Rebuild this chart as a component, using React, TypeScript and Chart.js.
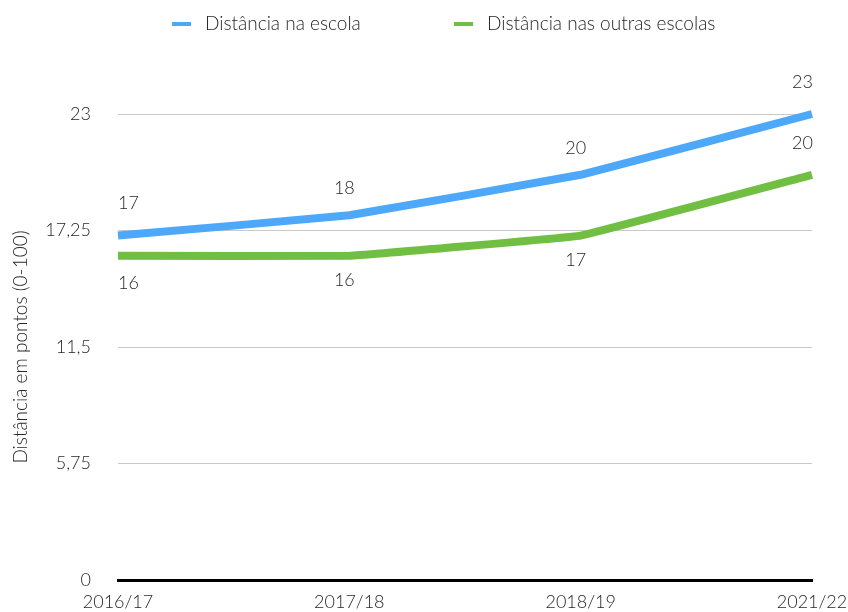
import React, { useEffect, useRef } from "react";
import { Chart, registerables } from "chart.js";

Chart.register(...registerables);

const categories = ["2016/17", "2017/18", "2018/19", "2021/22"];
const schoolValues = [17, 18, 20, 23];
const otherValues = [16, 16, 17, 20];
const schoolLabelPos = ["above", "above", "above", "above"];
const otherLabelPos = ["below", "below", "below", "above"];
const yTicks = [0, 5.75, 11.5, 17.25, 23];
const seriesNames = ["Distância na escola", "Distância nas outras escolas"];
const yTitle = "Distância em pontos (0-100)";

const BLUE = "#4ea8fa";
const GREEN = "#70bf43";
const FONT = "Lato";
const TEXT = "#262626";

const fmt = (v: number) => String(v).replace(".", ",");

const labelsPlugin = {
  id: "valueLabels",
  afterDatasetsDraw(chart: any) {
    const ctx = chart.ctx;
    ctx.save();
    ctx.font = `300 18px ${FONT}`;
    ctx.fillStyle = TEXT;
    ctx.textBaseline = "middle";
    chart.data.datasets.forEach((ds: any, di: number) => {
      const meta = chart.getDatasetMeta(di);
      const pos = ds.labelPos as string[];
      meta.data.forEach((pt: any, i: number) => {
        const n = meta.data.length;
        let x = pt.x;
        let off = 0;
        if (i === 0) {
          ctx.textAlign = "left";
          x = pt.x;
        } else if (i === n - 1) {
          ctx.textAlign = "right";
          x = pt.x + 1;
        } else {
          ctx.textAlign = "center";
          x = pt.x - 5;
          off = 5;
        }
        const y = pos[i] === "above" ? pt.y - 32 + off : pt.y + 27 - off / 2;
        ctx.fillText(fmt(ds.data[i]), x, y);
      });
    });
    ctx.restore();
  },
};

const legendPlugin = {
  id: "customLegend",
  afterDraw(chart: any) {
    const ctx = chart.ctx;
    ctx.save();
    ctx.font = `300 19px ${FONT}`;
    ctx.fillStyle = TEXT;
    ctx.textBaseline = "middle";
    ctx.textAlign = "left";
    const starts = [172, 454];
    chart.data.datasets.forEach((ds: any, i: number) => {
      const x = starts[i];
      const y = 24;
      ctx.strokeStyle = ds.borderColor;
      ctx.lineWidth = 4;
      ctx.beginPath();
      ctx.moveTo(x, y);
      ctx.lineTo(x + 19, y);
      ctx.stroke();
      ctx.fillText(ds.label, x + 33, y);
    });
    ctx.restore();
  },
};

export default function App() {
  const ref = useRef<HTMLCanvasElement>(null);
  useEffect(() => {
    document.body.style.margin = "0";
    const chart = new Chart(ref.current!, {
      type: "line",
      data: {
        labels: categories,
        datasets: [
          {
            label: seriesNames[0],
            data: schoolValues,
            borderColor: BLUE,
            backgroundColor: BLUE,
            borderWidth: 8,
            borderCapStyle: "butt",
            borderJoinStyle: "round",
            pointRadius: 0,
            tension: 0.05,
            clip: false,
            labelPos: schoolLabelPos,
          } as any,
          {
            label: seriesNames[1],
            data: otherValues,
            borderColor: GREEN,
            backgroundColor: GREEN,
            borderWidth: 8,
            borderCapStyle: "butt",
            borderJoinStyle: "round",
            pointRadius: 0,
            tension: 0.05,
            clip: false,
            labelPos: otherLabelPos,
          } as any,
        ],
      },
      options: {
        animation: false,
        responsive: false,
        maintainAspectRatio: false,
        layout: { padding: { top: 114, right: 36, left: 0, bottom: 0 } },
        plugins: {
          legend: { display: false },
          tooltip: { enabled: false },
        },
        scales: {
          x: {
            offset: false,
            afterFit(scale: any) {
              scale.height = 32;
              scale.paddingRight = 0;
              scale.paddingLeft = 0;
            },
            grid: { display: false, drawTicks: false },
            border: { display: true, color: "#000", width: 3 },
            ticks: {
              color: TEXT,
              font: { family: FONT, size: 18, weight: "300" as any },
              padding: 11,
              maxRotation: 0,
              autoSkip: false,
            },
          },
          y: {
            min: 0,
            max: 23,
            afterBuildTicks(scale: any) {
              scale.ticks = yTicks.map((v) => ({ value: v }));
            },
            afterFit(scale: any) {
              scale.width = 118;
              scale.paddingTop = 0;
              scale.paddingBottom = 0;
            },
            grid: {
              color: (c: any) => (c.tick && c.tick.value === 0 ? "rgba(0,0,0,0)" : "#c9c9c9"),
              lineWidth: 1,
              drawTicks: false,
            },
            border: { display: false },
            ticks: {
              color: TEXT,
              font: { family: FONT, size: 18, weight: "300" as any },
              padding: 27,
              callback: (v: any) => fmt(Number(v)),
            },
            title: {
              display: true,
              text: yTitle,
              color: TEXT,
              font: { family: FONT, size: 19, weight: "300" as any },
              padding: { top: 9, bottom: 4 },
            },
          },
        },
      },
      plugins: [labelsPlugin, legendPlugin],
    });
    return () => chart.destroy();
  }, []);
  return (
    <div style={{ width: 848, height: 612 }}>
      <canvas ref={ref} width={848} height={612} style={{ width: 848, height: 612 }} />
    </div>
  );
}
